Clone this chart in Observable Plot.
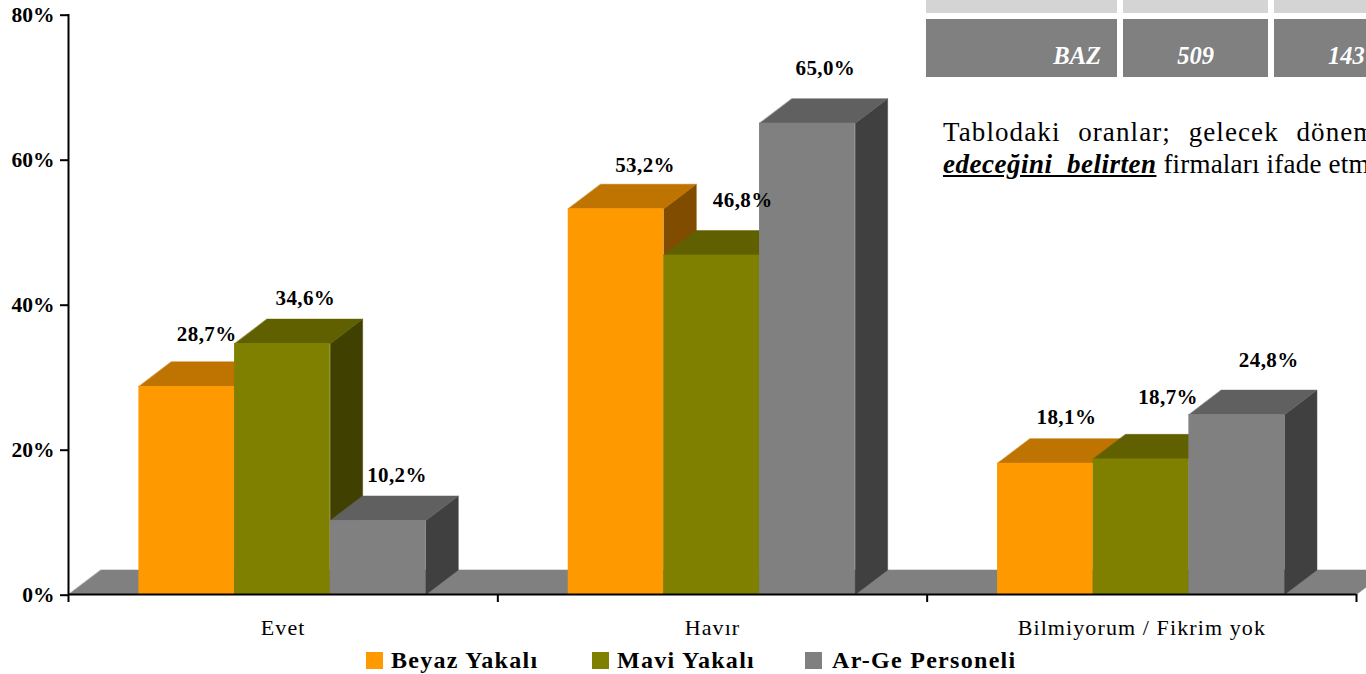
<!DOCTYPE html>
<html lang="tr">
<head>
<meta charset="utf-8">
<script src="https://cdn.jsdelivr.net/npm/d3@7"></script>
<script src="https://cdn.jsdelivr.net/npm/@observablehq/plot@0.6"></script>
<style>
  html, body { margin: 0; padding: 0; background: #fff; overflow: hidden; width: 1366px; height: 674px; }
  body { position: relative; font-family: "Liberation Serif", serif; color: #000; }
  #chart svg { display: block; }
  #chart g[aria-label="x-axis tick label"] text { letter-spacing: 1.1px; }
  #chart g[aria-label="text"] text { letter-spacing: .4px; }
  #legend { display: block; position: absolute; left: 366px; top: 647px; height: 26px; white-space: nowrap; font-size: 24px; font-weight: bold; letter-spacing: 1.3px; }
  #legend span { position: absolute; top: 0; line-height: 26px; }
  #legend i { position: absolute; top: 5px; width: 17px; height: 17px; }
  .cell { position: absolute; box-sizing: border-box; overflow: hidden; }
  .cell.dark { background: #808080; color: #fff; font: italic bold 24.5px "Liberation Serif", serif; top: 19px; height: 58px; line-height: 74px; }
  .cell.light { background: #d4d4d4; top: 0; height: 13px; }
  .note { position: absolute; left: 943px; font-size: 27px; white-space: pre; line-height: 30px; }
  .note em { font-weight: bold; font-style: italic; text-decoration: underline; letter-spacing: .5px; }
</style>
</head>
<body>
<div id="chart"></div>
<div id="legend"></div>
<script>
const categories = ["Evet", "Havır", "Bilmiyorum / Fikrim yok"];
const seriesNames = ["Beyaz Yakalı", "Mavi Yakalı", "Ar-Ge Personeli"];
const beyazYakali = [28.7, 53.2, 18.1];
const maviYakali = [34.6, 46.8, 18.7];
const argePersoneli = [10.2, 65.0, 24.8];
const yTicks = [0, 20, 40, 60, 80];
const noteLine1 = "Tablodaki  oranlar;  gelecek  dönem";
const noteEmphasis = "edeceğini  belirten";
const noteLine2 = " firmaları ifade etmektedir.";
const tableBottom = ["BAZ", "509", "143"];

const seriesValues = [beyazYakali, maviYakali, argePersoneli];
const faceColors = [
  {front: "#ff9900", top: "#bf7300", side: "#804d00"},
  {front: "#808000", top: "#606000", side: "#404000"},
  {front: "#808080", top: "#606060", side: "#404040"}
];
// depth of the 3D projection and bar layout, in scale units
const depthX = 0.0755, depthY = 3.39, groupGap = 0.164, barWidth = 0.2228;
// hand placement of value labels, pixels from bar top centre [series][category]
const labelNudge = [
  [[20, -52], [29, -44], [21, -46]],
  [[23, -45], [31, -55], [27, -62]],
  [[19, -45], [18, -55], [32, -54]]
];

const poly = (pts, fill) => Plot.line(pts, {x: "0", y: "1", fill, stroke: fill, strokeWidth: 0.5, curve: "linear-closed"});
const fmt = v => v.toFixed(1).replace(".", ",") + "%";

const marks = [
  poly([[0, 0], [3, 0], [3 + depthX, depthY], [depthX, depthY]], "#808080")
];
const labels = [];
categories.forEach((c, ci) => {
  seriesValues.forEach((vals, si) => {
    const v = vals[ci];
    const x1 = ci + groupGap + si * barWidth, x2 = x1 + barWidth;
    const col = faceColors[si];
    marks.push(
      poly([[x2, 0], [x2 + depthX, depthY], [x2 + depthX, v + depthY], [x2, v]], col.side),
      poly([[x1, v], [x2, v], [x2 + depthX, v + depthY], [x1 + depthX, v + depthY]], col.top),
      Plot.rect([v], {x1: () => x1, x2: () => x2, y1: () => 0, y2: d => d, fill: col.front})
    );
    const [dx, dy] = labelNudge[si][ci];
    labels.push(Plot.text([v], {
      x: () => (x1 + x2) / 2, y: d => d, text: fmt, dx, dy,
      fontSize: 21, fontWeight: "bold", fill: "#000"
    }));
  });
});

const chart = Plot.plot({
  width: 1366,
  height: 645,
  marginLeft: 68,
  marginRight: 10,
  marginTop: 14,
  marginBottom: 51,
  style: {fontFamily: "'Liberation Serif', serif", background: "transparent", color: "#000"},
  x: {domain: [0, 3]},
  y: {domain: [0, 80]},
  marks: [
    ...marks,
    Plot.ruleY([0], {stroke: "#000", strokeWidth: 2}),
    Plot.ruleX([0], {stroke: "#000", strokeWidth: 2}),
    Plot.axisY({ticks: yTicks, tickFormat: d => d + "%", tickSize: 8, tickPadding: 6, dy: 0.7, stroke: "#000", strokeWidth: 2, fontSize: 21.5, fontWeight: "bold", label: null}),
    Plot.axisX({ticks: [0, 1, 2, 3], tickFormat: () => "", tickSize: 8, stroke: "#000", strokeWidth: 2, label: null}),
    Plot.axisX({ticks: [0.5, 1.5, 2.5], tickFormat: d => categories[d - 0.5], tickSize: 0, tickPadding: 25, fontSize: 22, label: null, fill: "#000"}),
    ...labels
  ]
});
document.getElementById("chart").append(chart);

// legend
const legend = document.getElementById("legend");
[[0, 25], [226, 251], [439, 466]].forEach(([sx, tx], i) => {
  const sw = document.createElement("i");
  sw.style.left = sx + "px";
  sw.style.background = faceColors[i].front;
  const t = document.createElement("span");
  t.style.left = tx + "px";
  t.textContent = seriesNames[i];
  legend.append(sw, t);
});

// table fragment and note at the upper right
[[926, 191], [1123, 145], [1274, 92]].forEach(([left, width], i) => {
  const l = document.createElement("div");
  l.className = "cell light";
  l.style.left = left + "px"; l.style.width = width + "px";
  const d = document.createElement("div");
  d.className = "cell dark";
  d.style.left = left + "px"; d.style.width = width + "px";
  d.textContent = tableBottom[i];
  if (i === 0) { d.style.textAlign = "right"; d.style.paddingRight = "16px"; }
  else if (i === 1) { d.style.textAlign = "center"; }
  else { d.style.paddingLeft = "54px"; }
  document.body.append(l, d);
});
const n1 = document.createElement("div");
n1.className = "note"; n1.style.top = "117px"; n1.style.letterSpacing = "1.1px"; n1.style.wordSpacing = "1px"; n1.textContent = noteLine1;
const n2 = document.createElement("div");
n2.className = "note"; n2.style.top = "149px"; n2.style.letterSpacing = ".2px";
const em = document.createElement("em"); em.textContent = noteEmphasis;
n2.append(em, document.createTextNode(noteLine2));
document.body.append(n1, n2);
</script>
</body>
</html>
